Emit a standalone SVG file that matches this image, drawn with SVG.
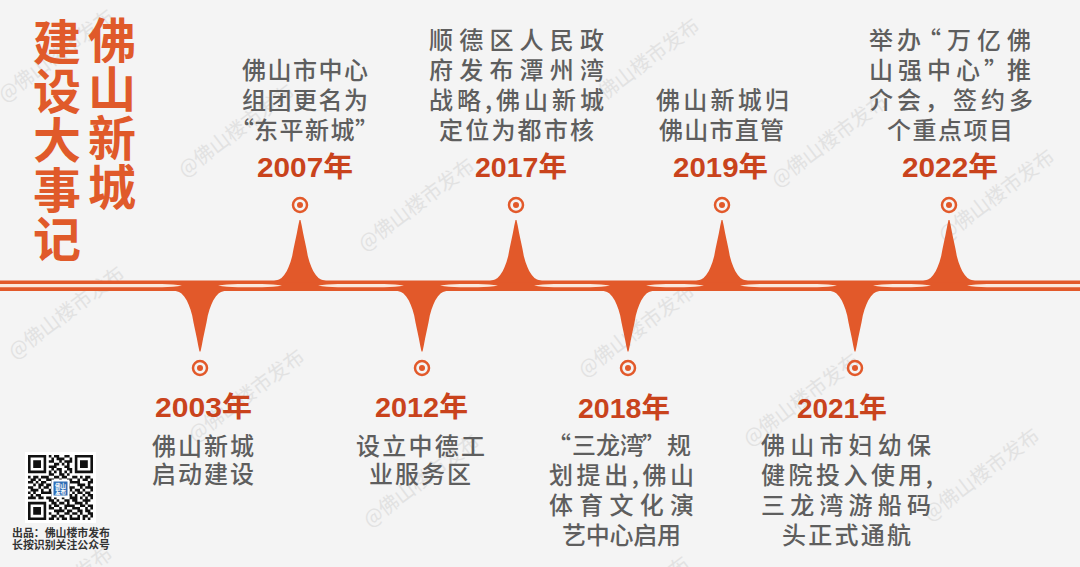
<svg xmlns="http://www.w3.org/2000/svg" width="1080" height="567" viewBox="0 0 1080 567">
<style>
.t{font-family:"Noto Sans CJK SC","Noto Sans",sans-serif;font-size:24px;font-weight:500;fill:#5e5e5e}
.y{font-family:"Liberation Sans","Noto Sans CJK SC",sans-serif;font-weight:bold;font-size:28px;fill:#c9431c}
.ti{font-family:"Noto Sans CJK SC",sans-serif;font-weight:700;font-size:48px;fill:#e05a2a;text-anchor:middle}
.wm{font-family:"Noto Sans CJK SC",sans-serif;font-size:20px;fill:#e2e2e2}
.ring{fill:none;stroke:#e2592a;stroke-width:2.5}
.dot{fill:#e2592a}
.band{fill:#e2592a}
.stripe{fill:#fbe8dd}
.cap{font-family:"Noto Sans CJK SC",sans-serif;font-size:11px;font-weight:bold;fill:#333}
</style>
<defs>
<path id="spike" d="M-26,1.5 L-26,0 L-21,-1.5 L-18.5,-3 L-15.8,-6 L-13.2,-10 L-11.4,-14 L-9.5,-19 L-7.8,-25 L-6.5,-32 L-4.8,-40 L-3.1,-48 L-1.8,-55 L-0.5,-61 L0.5,-61 L1.8,-55 L3.1,-48 L4.8,-40 L6.5,-32 L7.8,-25 L9.5,-19 L11.4,-14 L13.2,-10 L15.8,-6 L18.5,-3 L21,-1.5 L26,0 L26,1.5 Z"/>
</defs>
<rect width="1080" height="567" fill="#f4f4f4"/>
<g id="watermarks">
<text class="wm" transform="translate(5,103) rotate(-37)">@佛山楼市发布</text>
<text class="wm" transform="translate(185,178) rotate(-37)">@佛山楼市发布</text>
<text class="wm" transform="translate(365,252) rotate(-37)">@佛山楼市发布</text>
<text class="wm" transform="translate(590,112) rotate(-37)">@佛山楼市发布</text>
<text class="wm" transform="translate(778,188) rotate(-37)">@佛山楼市发布</text>
<text class="wm" transform="translate(945,243) rotate(-37)">@佛山楼市发布</text>
<text class="wm" transform="translate(195,443) rotate(-37)">@佛山楼市发布</text>
<text class="wm" transform="translate(750,447) rotate(-37)">@佛山楼市发布</text>
<text class="wm" transform="translate(930,522) rotate(-37)">@佛山楼市发布</text>
<text class="wm" transform="translate(15,360) rotate(-37)">@佛山楼市发布</text>
<text class="wm" transform="translate(585,378) rotate(-37)">@佛山楼市发布</text>
<text class="wm" transform="translate(370,528) rotate(-37)">@佛山楼市发布</text>
<text class="wm" transform="translate(580,650) rotate(-37)">@佛山楼市发布</text>
<text class="wm" transform="translate(3,640) rotate(-37)">@佛山楼市发布</text>
</g>
<g id="title">
<text class="ti" x="57" y="60">建</text>
<text class="ti" x="57" y="109">设</text>
<text class="ti" x="57" y="158">大</text>
<text class="ti" x="57" y="208">事</text>
<text class="ti" x="57" y="257">记</text>
<text class="ti" x="112" y="58">佛</text>
<text class="ti" x="112" y="107">山</text>
<text class="ti" x="112" y="156">新</text>
<text class="ti" x="112" y="205">城</text>
</g>
<g id="connectors">
<rect class="band" x="0" y="280.5" width="1080" height="10.5"/>
<use href="#spike" class="band" transform="translate(300,281)"/>
<use href="#spike" class="band" transform="translate(516,281)"/>
<use href="#spike" class="band" transform="translate(722,281)"/>
<use href="#spike" class="band" transform="translate(949,281)"/>
<use href="#spike" class="band" transform="translate(200,290.5) scale(1,-1)"/>
<use href="#spike" class="band" transform="translate(422,290.5) scale(1,-1)"/>
<use href="#spike" class="band" transform="translate(628,290.5) scale(1,-1)"/>
<use href="#spike" class="band" transform="translate(855,290.5) scale(1,-1)"/>
<path class="stripe" d="M-20,285.6 Q-12,284 0,284 H162 Q174,284 182,285.6 Q174,287.2 162,287.2 H0 Q-12,287.2 -20,285.6 Z"/>
<path class="stripe" d="M218,285.6 Q226,284 238,284 H262 Q274,284 282,285.6 Q274,287.2 262,287.2 H238 Q226,287.2 218,285.6 Z"/>
<path class="stripe" d="M318,285.6 Q326,284 338,284 H384 Q396,284 404,285.6 Q396,287.2 384,287.2 H338 Q326,287.2 318,285.6 Z"/>
<path class="stripe" d="M440,285.6 Q448,284 460,284 H478 Q490,284 498,285.6 Q490,287.2 478,287.2 H460 Q448,287.2 440,285.6 Z"/>
<path class="stripe" d="M534,285.6 Q542,284 554,284 H590 Q602,284 610,285.6 Q602,287.2 590,287.2 H554 Q542,287.2 534,285.6 Z"/>
<path class="stripe" d="M646,285.6 Q654,284 666,284 H684 Q696,284 704,285.6 Q696,287.2 684,287.2 H666 Q654,287.2 646,285.6 Z"/>
<path class="stripe" d="M740,285.6 Q748,284 760,284 H817 Q829,284 837,285.6 Q829,287.2 817,287.2 H760 Q748,287.2 740,285.6 Z"/>
<path class="stripe" d="M873,285.6 Q881,284 893,284 H911 Q923,284 931,285.6 Q923,287.2 911,287.2 H893 Q881,287.2 873,285.6 Z"/>
<path class="stripe" d="M967,285.6 Q975,284 987,284 H1090 V287.2 H987 Q975,287.2 967,285.6 Z"/>
</g>
<g id="n2003">
<circle class="ring" cx="200" cy="368" r="7"/><circle class="dot" cx="200" cy="368" r="3"/>
<text class="y" x="155" y="417" textLength="97" lengthAdjust="spacingAndGlyphs">2003年</text>
<text class="t" x="152" y="455" textLength="102" lengthAdjust="spacing">佛山新城</text>
<text class="t" x="152" y="483" textLength="102" lengthAdjust="spacing">启动建设</text>
</g>
<g id="n2007">
<circle class="ring" cx="300" cy="205" r="7"/><circle class="dot" cx="300" cy="205" r="3"/>
<text class="t" x="242" y="79" textLength="126" lengthAdjust="spacing">佛山市中心</text>
<text class="t" x="242" y="109" textLength="126" lengthAdjust="spacing">组团更名为</text>
<text class="t" x="230 254 279.5 305 330.5 355" y="139">“东平新城”</text>
<text class="y" x="257" y="177" textLength="96" lengthAdjust="spacingAndGlyphs">2007年</text>
</g>
<g id="n2012">
<circle class="ring" cx="422" cy="368" r="7"/><circle class="dot" cx="422" cy="368" r="3"/>
<text class="y" x="375" y="417" textLength="93" lengthAdjust="spacingAndGlyphs">2012年</text>
<text class="t" x="356" y="455" textLength="129" lengthAdjust="spacing">设立中德工</text>
<text class="t" x="369" y="483" textLength="102" lengthAdjust="spacing">业服务区</text>
</g>
<g id="n2017">
<circle class="ring" cx="516" cy="205" r="7"/><circle class="dot" cx="516" cy="205" r="3"/>
<text class="t" x="429" y="49" textLength="175" lengthAdjust="spacing">顺德区人民政</text>
<text class="t" x="429" y="79" textLength="175" lengthAdjust="spacing">府发布潭州湾</text>
<text class="t" x="429" y="109" textLength="175" lengthAdjust="spacing">战略,佛山新城</text>
<text class="t" x="439" y="139" textLength="155" lengthAdjust="spacing">定位为都市核</text>
<text class="y" x="475" y="177" textLength="92" lengthAdjust="spacingAndGlyphs">2017年</text>
</g>
<g id="n2018">
<circle class="ring" cx="628" cy="368" r="7"/><circle class="dot" cx="628" cy="368" r="3"/>
<text class="y" x="578" y="418" textLength="92" lengthAdjust="spacingAndGlyphs">2018年</text>
<text class="t" x="547 572 596 620 642 667" y="454">“三龙湾”规</text>
<text class="t" x="549" y="484" textLength="145" lengthAdjust="spacing">划提出,佛山</text>
<text class="t" x="549" y="514" textLength="145" lengthAdjust="spacing">体育文化演</text>
<text class="t" x="562" y="544" textLength="119" lengthAdjust="spacing">艺中心启用</text>
</g>
<g id="n2019">
<circle class="ring" cx="722" cy="205" r="7"/><circle class="dot" cx="722" cy="205" r="3"/>
<text class="t" x="656" y="109" textLength="133" lengthAdjust="spacing">佛山新城归</text>
<text class="t" x="659" y="139" textLength="125" lengthAdjust="spacing">佛山市直管</text>
<text class="y" x="673" y="177" textLength="95" lengthAdjust="spacingAndGlyphs">2019年</text>
</g>
<g id="n2021">
<circle class="ring" cx="855" cy="368" r="7"/><circle class="dot" cx="855" cy="368" r="3"/>
<text class="y" x="797" y="418" textLength="90" lengthAdjust="spacingAndGlyphs">2021年</text>
<text class="t" x="761" y="454" textLength="170" lengthAdjust="spacing">佛山市妇幼保</text>
<text class="t" x="761" y="484" textLength="172" lengthAdjust="spacing">健院投入使用,</text>
<text class="t" x="761" y="514" textLength="170" lengthAdjust="spacing">三龙湾游船码</text>
<text class="t" x="782" y="544" textLength="129" lengthAdjust="spacing">头正式通航</text>
</g>
<g id="n2022">
<circle class="ring" cx="949" cy="205" r="7"/><circle class="dot" cx="949" cy="205" r="3"/>
<text class="t" x="869 897 917 947 977 1007" y="49">举办“万亿佛</text>
<text class="t" x="869 898 927 956 984 1007" y="79">山强中心”推</text>
<text class="t" x="869" y="109" textLength="164" lengthAdjust="spacing">介会，签约多</text>
<text class="t" x="887" y="139" textLength="126" lengthAdjust="spacing">个重点项目</text>
<text class="y" x="902" y="177" textLength="96" lengthAdjust="spacingAndGlyphs">2022年</text>
</g>
<g id="qrcode">
<rect x="25" y="452" width="71" height="71" fill="#ffffff"/>
<g transform="translate(28,455) scale(2.6)" fill="#111">
<path fill-rule="evenodd" d="M0 0h7v7h-7zM1 1v5h5v-5zM2 2h3v3h-3zM18 0h7v7h-7zM19 1v5h5v-5zM20 2h3v3h-3zM0 18h7v7h-7zM1 19v5h5v-5zM2 20h3v3h-3z"/>
<path d="M8 0h1v1h-1zM10 0h2v1h-2zM14 0h2v1h-2zM9 1h1v1h-1zM11 1h3v1h-3zM16 1h1v1h-1zM8 2h2v1h-2zM12 2h1v1h-1zM14 2h3v1h-3zM10 3h2v1h-2zM13 3h1v1h-1zM15 3h1v1h-1zM8 4h3v1h-3zM14 4h2v1h-2zM9 5h1v1h-1zM11 5h2v1h-2zM15 5h2v1h-2zM8 6h1v1h-1zM10 6h1v1h-1zM12 6h1v1h-1zM14 6h1v1h-1zM16 6h1v1h-1zM8 7h2v1h-2zM12 7h2v1h-2zM15 7h1v1h-1zM0 8h1v1h-1zM2 8h2v1h-2zM5 8h3v1h-3zM10 8h2v1h-2zM13 8h2v1h-2zM17 8h2v1h-2zM20 8h1v1h-1zM22 8h2v1h-2zM1 9h2v1h-2zM4 9h1v1h-1zM7 9h3v1h-3zM12 9h1v1h-1zM15 9h2v1h-2zM19 9h1v1h-1zM21 9h2v1h-2zM24 9h1v1h-1zM0 10h2v1h-2zM3 10h1v1h-1zM5 10h2v1h-2zM9 10h3v1h-3zM13 10h1v1h-1zM16 10h4v1h-4zM23 10h2v1h-2zM2 11h1v1h-1zM4 11h2v1h-2zM7 11h2v1h-2zM11 11h2v1h-2zM14 11h2v1h-2zM19 11h3v1h-3zM23 11h1v1h-1zM0 12h2v1h-2zM4 12h1v1h-1zM6 12h2v1h-2zM9 12h1v1h-1zM12 12h2v1h-2zM15 12h3v1h-3zM20 12h1v1h-1zM22 12h3v1h-3zM1 13h3v1h-3zM5 13h1v1h-1zM8 13h1v1h-1zM10 13h2v1h-2zM14 13h1v1h-1zM16 13h1v1h-1zM18 13h2v1h-2zM21 13h1v1h-1zM24 13h1v1h-1zM0 14h1v1h-1zM2 14h1v1h-1zM5 14h5v1h-5zM11 14h1v1h-1zM13 14h1v1h-1zM15 14h1v1h-1zM17 14h1v1h-1zM19 14h2v1h-2zM22 14h2v1h-2zM1 15h1v1h-1zM3 15h2v1h-2zM9 15h2v1h-2zM12 15h1v1h-1zM14 15h3v1h-3zM18 15h1v1h-1zM21 15h1v1h-1zM23 15h2v1h-2zM0 16h3v1h-3zM4 16h2v1h-2zM7 16h2v1h-2zM10 16h1v1h-1zM13 16h1v1h-1zM16 16h3v1h-3zM20 16h1v1h-1zM22 16h1v1h-1zM24 16h1v1h-1zM8 17h2v1h-2zM11 17h1v1h-1zM14 17h2v1h-2zM17 17h2v1h-2zM21 17h3v1h-3zM9 18h2v1h-2zM12 18h2v1h-2zM15 18h1v1h-1zM18 18h3v1h-3zM22 18h1v1h-1zM8 19h1v1h-1zM10 19h2v1h-2zM14 19h4v1h-4zM20 19h2v1h-2zM23 19h2v1h-2zM8 20h2v1h-2zM12 20h1v1h-1zM14 20h1v1h-1zM17 20h3v1h-3zM22 20h1v1h-1zM24 20h1v1h-1zM10 21h4v1h-4zM15 21h2v1h-2zM19 21h2v1h-2zM22 21h2v1h-2zM8 22h1v1h-1zM11 22h1v1h-1zM14 22h2v1h-2zM17 22h2v1h-2zM20 22h1v1h-1zM23 22h2v1h-2zM9 23h2v1h-2zM12 23h2v1h-2zM16 23h1v1h-1zM19 23h1v1h-1zM21 23h2v1h-2zM24 23h1v1h-1zM8 24h2v1h-2zM11 24h1v1h-1zM13 24h2v1h-2zM16 24h4v1h-4zM21 24h1v1h-1zM23 24h1v1h-1z"/>
</g>
<rect x="51.5" y="479.5" width="18" height="18" fill="#ffffff"/>
<rect x="53.5" y="481.5" width="14" height="14" fill="#2f6db5"/>
<text x="60.5" y="487.5" text-anchor="middle" font-family="Noto Sans CJK SC,sans-serif" font-size="5.5" font-weight="bold" fill="#ffffff">佛山</text>
<text x="60.5" y="494" text-anchor="middle" font-family="Noto Sans CJK SC,sans-serif" font-size="5.5" font-weight="bold" fill="#ffffff">发布</text>
<text class="cap" x="12" y="537" textLength="98" lengthAdjust="spacingAndGlyphs">出品：佛山楼市发布</text>
<text class="cap" x="12" y="549" textLength="98" lengthAdjust="spacingAndGlyphs">长按识别关注公众号</text>
</g>
</svg>
